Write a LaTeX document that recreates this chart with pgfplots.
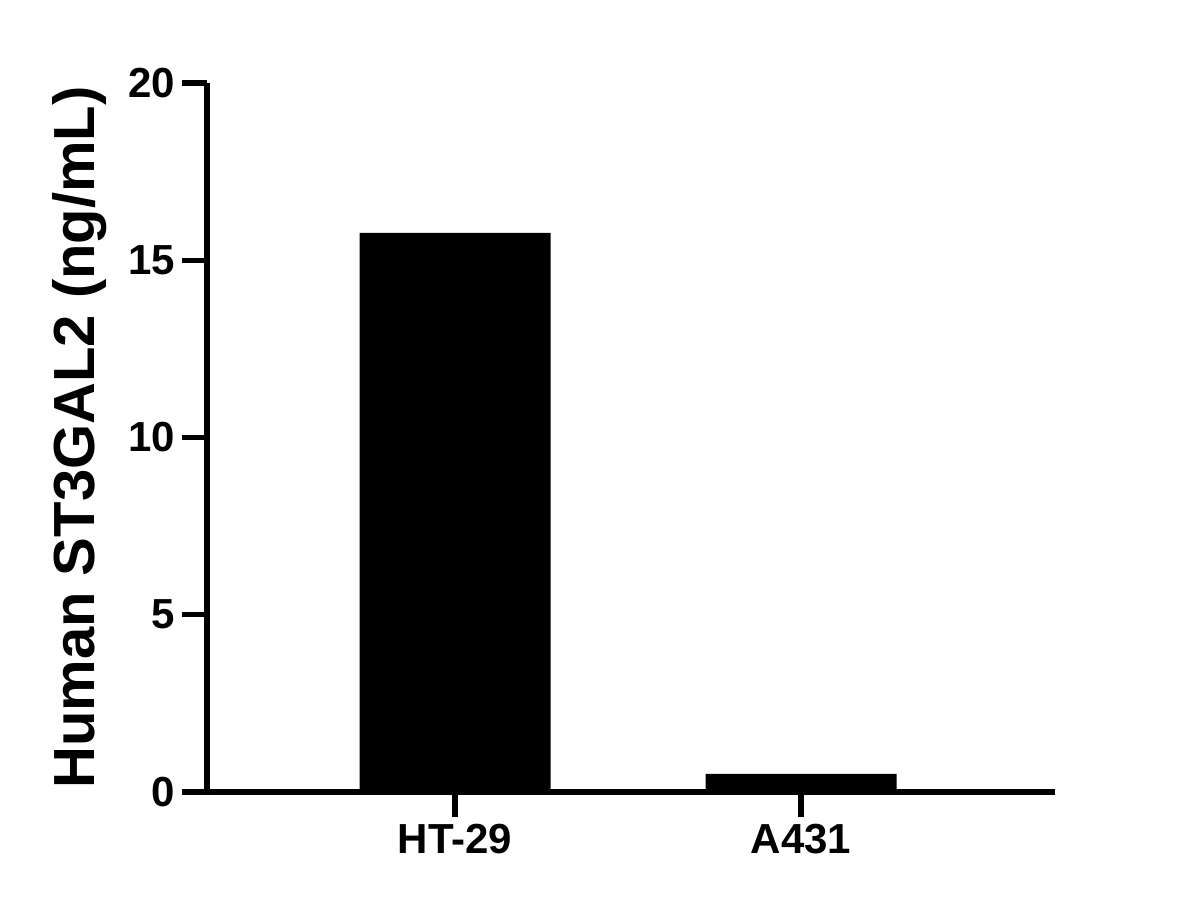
\documentclass[border=0pt]{standalone}
\usepackage{pgfplots}
\pgfplotsset{compat=1.18}
\usepackage{fontspec}
\setmainfont{Liberation Sans}
\begin{document}
\begin{tikzpicture}
\begin{axis}[
  name=ax,
  scale only axis,
  width=424pt, height=354.5pt,
  xmin=-0.717, xmax=1.734,
  ymin=0, ymax=20,
  axis lines=left,
  axis line style={-, line width=2.6pt, black},
  xtick={0,1},
  xticklabels={HT-29, A431},
  ytick={0,5,10,15,20},
  tick align=outside,
  major tick length=12.5pt,
  major tick style={line width=2.6pt, black},
  /pgf/number format/assume math mode=true,
  ticklabel style={font=\fontsize{21}{24}\selectfont\bfseries},
  ylabel={Human ST3GAL2 (ng/mL)},
  every axis y label/.style={at={([xshift=-56pt]axis description cs:0,0.5)}, rotate=90, anchor=base, font=\fontsize{29}{33}\selectfont\bfseries},
  clip=false,
]
\addplot[ybar, bar width=0.552, fill=black, draw=none] coordinates {(0,15.77) (1,0.51)};
\end{axis}
\pgfresetboundingbox
\path ([shift={(-103.5pt,-58pt)}]ax.south west) rectangle ([shift={(492pt,396pt)}]ax.south west);
\end{tikzpicture}
\end{document}
